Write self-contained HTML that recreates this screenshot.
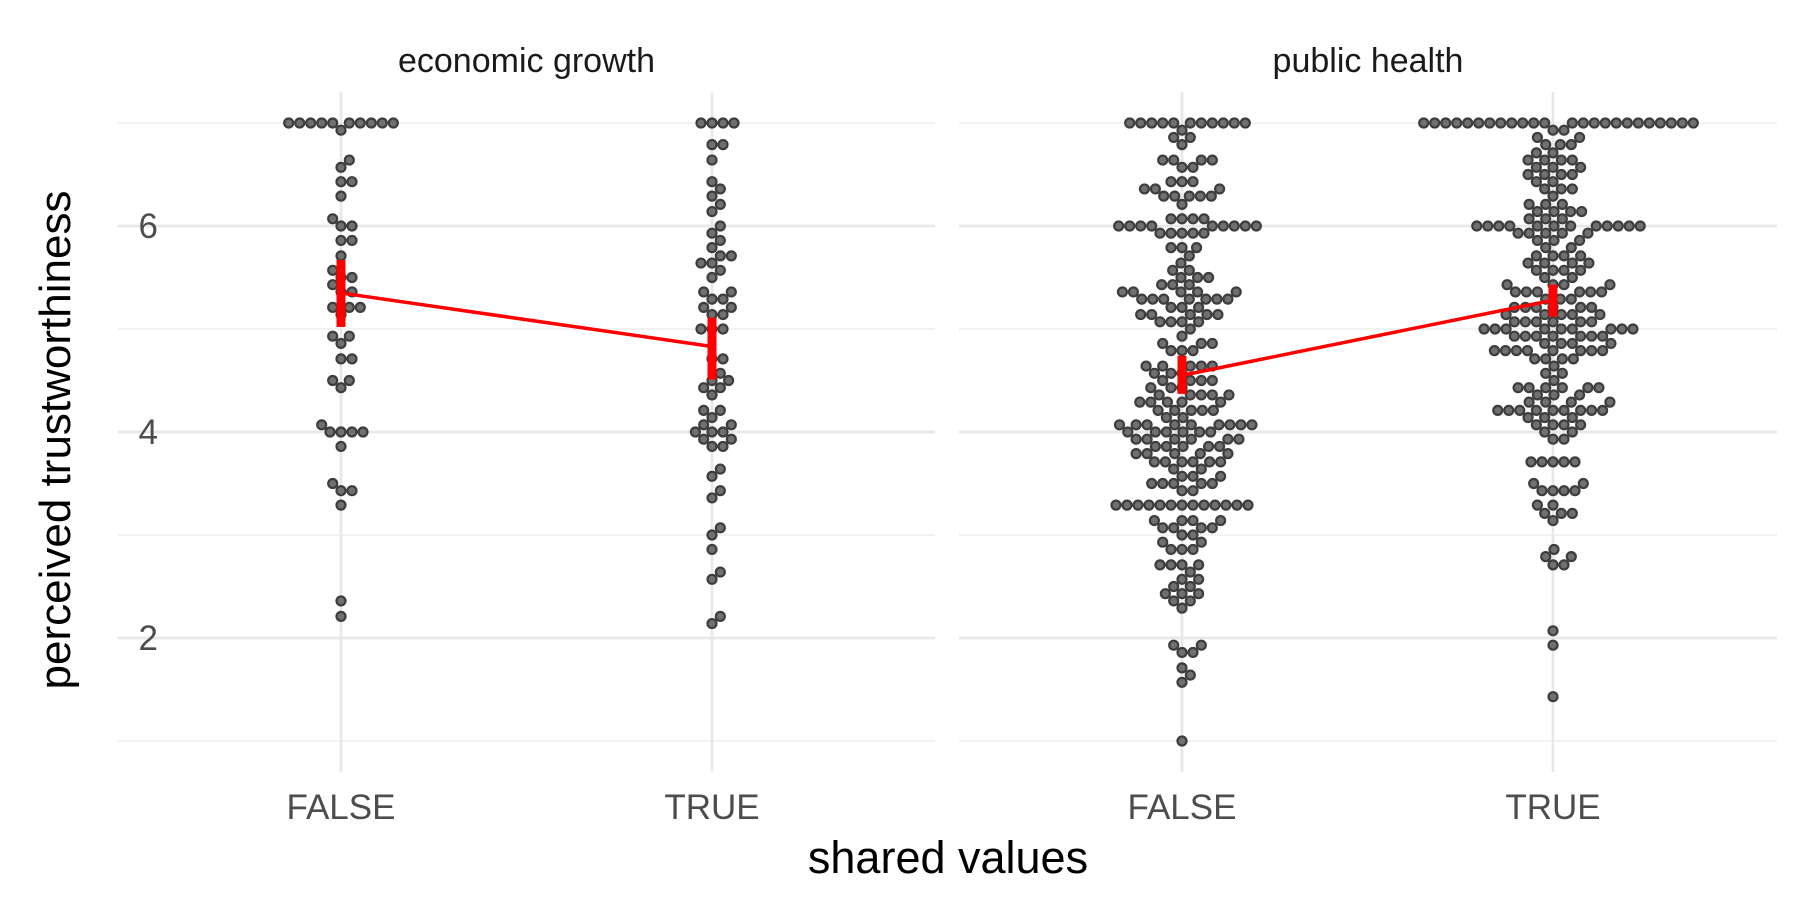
<!DOCTYPE html>
<html><head><meta charset="utf-8"><style>
html,body{margin:0;padding:0;background:#fff;}
svg{display:block;font-family:"Liberation Sans",sans-serif;}
</style></head><body>
<svg id="chart" width="1800" height="900" viewBox="0 0 1800 900">
<g id="grid"></g>
<g id="marks"></g>
<g id="labels"></g>
</svg>
<script>
// ---- data ----
const panels = ["economic growth", "public health"];
const categories = ["FALSE", "TRUE"];
const yTicks = [2, 4, 6];
const yMinor = [1, 3, 5, 7];
// value / count pairs per group
const ecoFalseVals = [7,6.93,6.64,6.57,6.43,6.29,6.07,6,5.86,5.71,5.57,5.5,5.43,5.36,5.21,5.14,4.93,4.86,4.71,4.5,4.43,4.07,4,3.86,3.5,3.43,3.29,2.36,2.21];
const ecoFalseCnt  = [10,1,1,1,2,1,1,2,2,1,1,2,1,2,3,1,2,1,2,2,1,1,4,1,1,2,1,1,1];
const ecoTrueVals = [7,6.79,6.64,6.43,6.36,6.29,6.21,6.14,6,5.93,5.86,5.79,5.71,5.64,5.57,5.5,5.36,5.29,5.21,5.14,5,4.71,4.57,4.5,4.43,4.36,4.21,4.14,4.07,4,3.93,3.86,3.64,3.57,3.43,3.36,3.07,3,2.86,2.64,2.57,2.21,2.14];
const ecoTrueCnt  = [4,2,1,1,1,1,1,1,1,1,1,1,2,2,1,1,2,2,2,2,3,2,1,2,2,1,2,1,2,3,2,2,1,1,1,1,1,1,1,1,1,1,1];
const phFalseVals = [7,6.93,6.86,6.79,6.64,6.57,6.43,6.36,6.29,6.21,6.07,6,5.93,5.79,5.71,5.64,5.57,5.5,5.43,5.36,5.29,5.21,5.14,5.07,5,4.93,4.86,4.79,4.64,4.57,4.5,4.43,4.36,4.29,4.21,4.14,4.07,4,3.93,3.86,3.79,3.71,3.64,3.57,3.5,3.43,3.29,3.14,3.07,3,2.93,2.86,2.71,2.64,2.57,2.5,2.43,2.36,2.29,1.93,1.86,1.71,1.64,1.57,1];
const phFalseCnt  = [11,1,2,1,4,2,3,3,5,1,4,9,5,3,1,1,2,3,3,5,7,3,5,4,1,1,3,3,5,3,4,3,5,5,5,2,9,6,6,5,5,6,2,3,5,2,13,4,4,2,2,3,4,1,2,2,3,2,1,2,2,1,1,1,1];
const phTrueVals = [7,6.93,6.86,6.79,6.71,6.64,6.57,6.5,6.43,6.36,6.29,6.21,6.14,6.07,6,5.93,5.86,5.79,5.71,5.64,5.57,5.5,5.43,5.36,5.29,5.21,5.14,5.07,5,4.93,4.86,4.79,4.71,4.64,4.57,4.5,4.43,4.36,4.29,4.21,4.14,4.07,4,3.93,3.71,3.5,3.43,3.29,3.21,3.14,2.86,2.79,2.71,2.07,1.93,1.43];
const phTrueCnt  = [24,2,2,3,2,4,3,4,2,3,1,3,4,3,12,5,3,2,4,4,4,2,4,6,3,6,5,6,9,7,4,8,4,1,2,1,6,3,4,9,3,4,2,2,5,2,4,2,3,1,1,2,2,1,1,1];
const means = [5.35, 4.83, 4.55, 5.28];
const ciLow = [5.02, 4.51, 4.37, 5.12];
const ciHigh = [5.67, 5.11, 4.74, 5.43];

// ---- layout ----
const NS = "http://www.w3.org/2000/svg";
const panelX = [[118, 935], [959, 1777]];
const catX = (p, c) => panelX[p][0] + 223 + c * 371;
const Y = v => 123 + (7 - v) * 103;
const plotTop = Y(7.3), plotBottom = Y(0.7);
function mk(tag, attrs, parent) {
  const e = document.createElementNS(NS, tag);
  for (const k in attrs) e.setAttribute(k, attrs[k]);
  parent.appendChild(e); return e;
}
const grid = document.getElementById("grid");
const marks = document.getElementById("marks");
const labels = document.getElementById("labels");

for (let p = 0; p < 2; p++) {
  for (const v of yMinor) {
    const l = mk("line", {x1: panelX[p][0], x2: panelX[p][1], y1: Y(v), y2: Y(v), stroke: "#ebebeb", "stroke-width": 1.3}, grid);
    
    
  }
  for (const v of yTicks) {
    const l = mk("line", {x1: panelX[p][0], x2: panelX[p][1], y1: Y(v), y2: Y(v), stroke: "#e8e8e8", "stroke-width": 2.8}, grid);
    
    
  }
  for (let c = 0; c < 2; c++) {
    const l = mk("line", {x1: catX(p, c), x2: catX(p, c), y1: plotTop, y2: plotBottom, stroke: "#e8e8e8", "stroke-width": 2.8}, grid);
    
    
    const t = mk("text", {x: catX(p, c), y: 819, "text-anchor": "middle", "font-size": 35, fill: "#4d4d4d"}, labels);
    t.textContent = categories[c];
    
    
  }
  const s = mk("text", {x: (panelX[p][0] + panelX[p][1]) / 2, y: 72, "text-anchor": "middle", "font-size": 34, fill: "#1a1a1a"}, labels);
  s.textContent = panels[p];
  
  
}
for (const v of yTicks) {
  const t = mk("text", {x: 158, y: Y(v) + 12, "text-anchor": "end", "font-size": 35, fill: "#4d4d4d"}, labels);
  t.textContent = v;
  
  
}
const xt = mk("text", {x: 948, y: 873, "text-anchor": "middle", "font-size": 45, fill: "#000"}, labels);
xt.textContent = "shared values";


const yt = mk("text", {x: 0, y: 0, "text-anchor": "middle", "font-size": 44, fill: "#000", transform: "translate(70,440) rotate(-90)"}, labels);
yt.textContent = "perceived trustworthiness";



// ---- swarm ----
const groups = [[ecoFalseVals, ecoFalseCnt, 0, 0], [ecoTrueVals, ecoTrueCnt, 0, 1], [phFalseVals, phFalseCnt, 1, 0], [phTrueVals, phTrueCnt, 1, 1]];
const D = 11;
function swarm(vals, cnts) {
  const ys = [];
  vals.forEach((v, i) => { for (let j = 0; j < cnts[i]; j++) ys.push(Y(v)); });
  ys.sort((a, b) => b - a);
  const placed = [];
  for (const y of ys) {
    const cands = [0];
    for (const p of placed) {
      const dy = Math.abs(p.y - y);
      if (dy < D) { const dx = Math.sqrt(D * D - dy * dy); cands.push(p.x + dx, p.x - dx); }
    }
    let best = null;
    for (const c of cands) {
      let ok = true;
      for (const p of placed) { const dx = p.x - c, dy = p.y - y; if (dx * dx + dy * dy < D * D - 0.05) { ok = false; break; } }
      if (ok && (best === null || Math.abs(c) < Math.abs(best) - 1e-6 || (Math.abs(Math.abs(c) - Math.abs(best)) < 1e-6 && c > best))) best = c;
    }
    placed.push({x: best, y});
  }
  return placed;
}
groups.forEach(([vals, cnts, p, c]) => {
  const cx = catX(p, c);
  for (const pt of swarm(vals, cnts)) {
    const el = mk("circle", {cx: cx + pt.x, cy: pt.y, r: 4.5, fill: "#707070", stroke: "#3d3d3d", "stroke-width": 2.2}, marks);
    
    
  }
});

// ---- mean + CI ----
for (let p = 0; p < 2; p++) {
  const i0 = p * 2, i1 = p * 2 + 1;
  const ln = mk("line", {x1: catX(p, 0), y1: Y(means[i0]), x2: catX(p, 1), y2: Y(means[i1]), stroke: "#ff0000", "stroke-width": 3.5}, marks);
  
  
  for (let c = 0; c < 2; c++) {
    const i = p * 2 + c;
    const r = mk("rect", {x: catX(p, c) - 4.5, y: Y(ciHigh[i]), width: 9, height: Y(ciLow[i]) - Y(ciHigh[i]), fill: "#ff0000"}, marks);
    
    
    const m = mk("circle", {cx: catX(p, c), cy: Y(means[i]), r: 4, fill: "#ff0000"}, marks);
    
    
  }
}
</script>
</body></html>
